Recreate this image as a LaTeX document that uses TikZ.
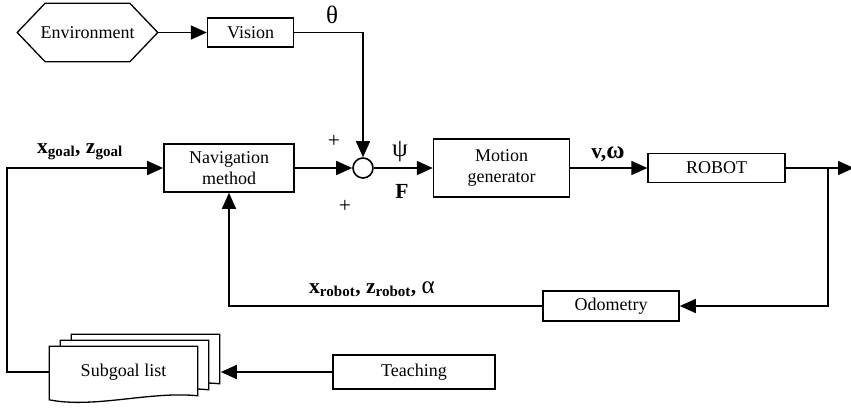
\documentclass[tikz,border=0pt]{standalone}
\usepackage{fontspec}
\setmainfont{Liberation Serif}
\usetikzlibrary{arrows.meta,positioning,backgrounds}

\newcommand{\gk}[1]{{\fontsize{25}{25}\selectfont #1}}

\begin{document}
\begin{tikzpicture}[
    x=1pt, y=-1pt,
    font=\fontsize{18}{21}\selectfont,
    line width=1.6pt,
    blk/.style={draw, rectangle, align=center, inner sep=2pt},
    sumpt/.style={draw, circle, minimum size=20pt, inner sep=0pt},
    sig/.style={font=\fontsize{21.5}{22}\selectfont, inner sep=1pt},
    >={Triangle[length=16pt,width=14pt]},
    ]
\useasboundingbox (0,0) rectangle (851,407);

% sensing branch
\node[minimum width=139pt, minimum height=57pt, inner sep=0pt] (env) at (87.5,32.5) {Environment};
\draw[line width=1.3pt] (env.west) -- ([xshift=28pt]env.north west) -- ([xshift=-28pt]env.north east)
   -- (env.east) -- ([xshift=-28pt]env.south east) -- ([xshift=28pt]env.south west) -- cycle;
\node[blk, minimum width=86pt, minimum height=29pt, right=49pt of env] (vision) {Vision};

% main loop
\node[blk, minimum width=130pt, minimum height=48pt] (nav) at (229,168) {Navigation\\method};
\node[sumpt] (sum) at (363,168) {};
\node[blk, minimum width=136pt, minimum height=58pt, right=59pt of sum] (motion) {Motion\\generator};
\node[blk, minimum width=137pt, minimum height=29pt, right=77pt of motion] (robot) {ROBOT};
\node[blk, minimum width=136pt, minimum height=30pt] (odo) at (611,306) {Odometry};
\node[blk, minimum width=162pt, minimum height=34pt] (teach) at (414,372) {Teaching};
\node[minimum width=147pt, minimum height=50pt, inner sep=0pt] (sub) at (123.5,372) {Subgoal list};

\coordinate (tap) at ([xshift=42pt]robot.east);
\coordinate (out) at ([xshift=68pt]robot.east);
\coordinate (stack) at ([xshift=23pt]sub.east);

% stacked pages behind the subgoal list
\begin{scope}[on background layer]
\foreach \k in {2,1,0}
  \draw[fill=white, line width=1.3pt]
    ([shift={(\k*11pt,\k*6pt)}]sub.north west) -- ([shift={(\k*11pt,\k*6pt)}]sub.north east)
    -- ([shift={(\k*11pt,\k*6pt+2pt)}]sub.south east)
    .. controls +(-47pt,5pt) and +(45pt,-9pt) ..
    ([shift={(\k*11pt,\k*6pt-2pt)}]sub.south west) -- cycle;
\end{scope}

\draw[->] (env) -- (vision);
\draw[->] (vision.east) -| (sum.north);
\draw[->] (nav) -- (sum);
\draw[->] (sum) -- (motion);
\draw[->] (motion) -- (robot);
\draw[->] (robot) -- (out);
\draw[->] (tap) |- (odo.east);
\draw[->] (odo.west) -| (nav.south);
\draw[->] (sub.west) -- ++(-42pt,0) |- (nav.west);
\draw[->] (teach.west) -- (stack);

% signal labels
\node[sig] (theta) at (332,15) {\gk{θ}};
\node[sig] (psi) at (400,152) {\gk{ψ}};
\node[sig] (force) at (402,191) {\textbf{F}};
\node[sig] (vw) at (608,154) {\textbf{v,}\gk{\textbf{ω}}};
\node[sig] (goal) at (80,152) {\bfseries x\textsubscript{goal}, z\textsubscript{goal}};
\node[sig] (pose) at (372,289) {{\bfseries x\textsubscript{robot}, z\textsubscript{robot},} \gk{α}};
\node[sig] (plusa) at (334,141) {+};
\node[sig] (plusb) at (345,206) {+};
\end{tikzpicture}
\end{document}
